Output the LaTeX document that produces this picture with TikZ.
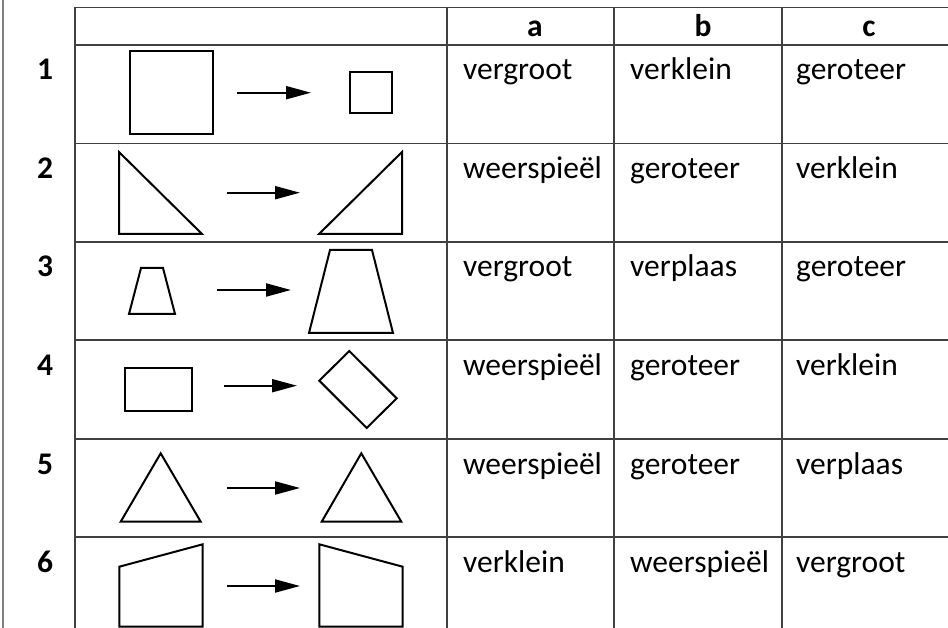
\documentclass[tikz,border=0pt]{standalone}
\usepackage{fontspec}
\setmainfont{Carlito}
\usetikzlibrary{arrows.meta}
\begin{document}
\begin{tikzpicture}[x=1pt,y=-1pt,
  gridline/.style={draw=black!75, line width=1.1pt},
  shp/.style={draw=black, line width=2pt, line join=miter},
  arr/.style={draw=black, line width=2pt, -{Triangle[length=25pt,width=13pt]}},
  cell/.style={anchor=base west, inner sep=0pt, font=\fontsize{31.5}{36}\selectfont},
  lbl/.style={anchor=base, inner sep=0pt, font=\fontsize{31.5}{36}\selectfont\bfseries},
]
\useasboundingbox (0,0) rectangle (948,628);
\fill[white] (0,0) rectangle (948,628);
\draw[gray, line width=2pt] (2.5,0) -- (2.5,628);
% grid
\foreach \yy in {7.5,45,143.5,242,340,439,537}
  \draw[gridline] (75,\yy) -- (948,\yy);
\foreach \xx in {75,447,614,782}
  \draw[gridline] (\xx,7.5) -- (\xx,628);
% header
\node[lbl] (ha) at (535,37) {a};
\node[lbl] (hb) at (703,37) {b};
\node[lbl] (hc) at (869,37) {c};
% row labels and cells
\foreach \i/\top/\ta/\tb/\tc in {
  1/45/vergroot/verklein/geroteer,
  2/143.5/weerspieël/geroteer/verklein,
  3/242/vergroot/verplaas/geroteer,
  4/340/weerspieël/geroteer/verklein,
  5/439/weerspieël/geroteer/verplaas,
  6/537/verklein/weerspieël/vergroot}{
  \node[lbl] (r\i) at (45,\top+35) {\i};
  \node[cell] (a\i) at (463,\top+35) {\ta};
  \node[cell] (b\i) at (630,\top+35) {\tb};
  \node[cell] (c\i) at (796,\top+35) {\tc};
}
% row 1
\draw[shp] (130,51) rectangle (213,134);
\draw[shp] (350,72) rectangle (392,113);
\coordinate (s1) at (237,92.7); \coordinate (e1) at (311,92.7);
\draw[arr] (s1) -- (e1);
% row 2
\draw[shp] (119,152) -- (119,234) -- (202,234) -- cycle;
\draw[shp] (402,152) -- (402,234) -- (319,234) -- cycle;
\coordinate (s2) at (227,192.7); \coordinate (e2) at (300,192.7);
\draw[arr] (s2) -- (e2);
% row 3
\draw[shp] (141,268) -- (163,268) -- (175,314) -- (129,314) -- cycle;
\draw[shp] (330,250) -- (372,250) -- (393,333) -- (309,333) -- cycle;
\coordinate (s3) at (217,290); \coordinate (e3) at (291,290);
\draw[arr] (s3) -- (e3);
% row 4
\draw[shp] (125,368) rectangle (192,411);
\draw[shp] (349.3,351) -- (396.7,398.3) -- (366.7,428) -- (319.3,380.7) -- cycle;
\coordinate (s4) at (224,385.7); \coordinate (e4) at (297,385.7);
\draw[arr] (s4) -- (e4);
% row 5
\draw[shp] (160.7,453.3) -- (200.7,521.7) -- (120.7,521.7) -- cycle;
\draw[shp] (361.3,453.3) -- (401.3,521.7) -- (321.7,521.7) -- cycle;
\coordinate (s5) at (227,488); \coordinate (e5) at (300,488);
\draw[arr] (s5) -- (e5);
% row 6
\draw[shp] (119.3,566.7) -- (202.7,544.3) -- (202.7,626.7) -- (119.3,626.7) -- cycle;
\draw[shp] (319.3,544.3) -- (402.7,566.7) -- (402.7,626.7) -- (319.3,626.7) -- cycle;
\coordinate (s6) at (227,586); \coordinate (e6) at (300,586);
\draw[arr] (s6) -- (e6);
\end{tikzpicture}
\end{document}
